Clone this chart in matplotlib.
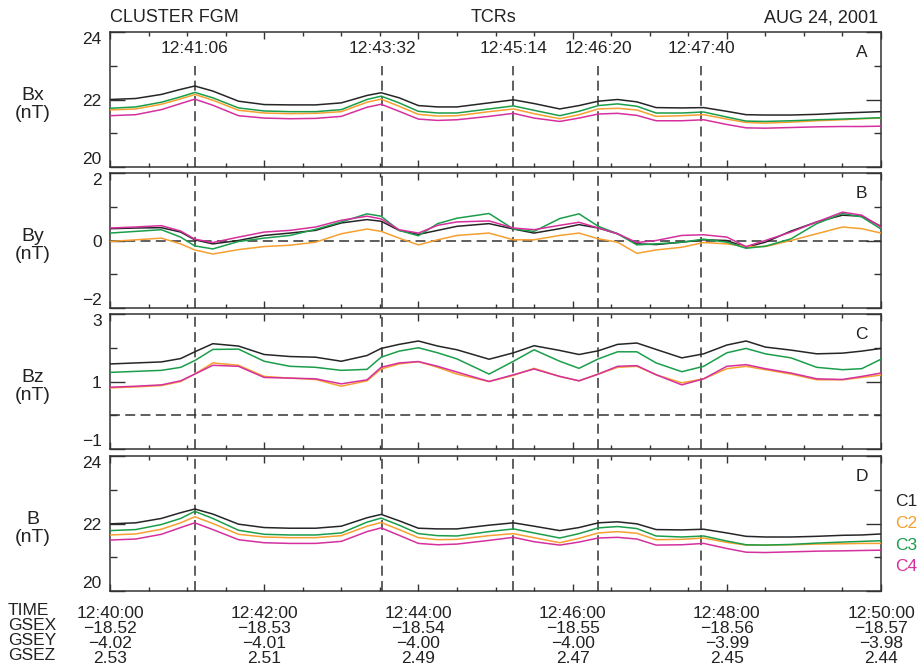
import matplotlib
matplotlib.use("Agg")
import matplotlib.pyplot as plt
from matplotlib.ticker import MultipleLocator, FixedLocator

plt.rcParams['font.family'] = ['Liberation Sans', 'DejaVu Sans']

# seconds after 12:40:00
t = [0, 20, 40, 55, 66, 80, 100, 120, 140, 160, 180, 200, 211, 225, 240, 255, 270, 295,
     314, 330, 350, 365, 380, 395, 410, 425, 445, 462, 480, 495, 510, 530, 550, 570, 585, 600]

bx_c1 = [22.0, 22.03, 22.15, 22.3, 22.4, 22.25, 21.95, 21.85, 21.84, 21.84, 21.9, 22.12, 22.2, 22.05,
         21.82, 21.78, 21.78, 21.9, 21.99, 21.88, 21.72, 21.82, 21.95, 22.0, 21.93, 21.76, 21.75, 21.76,
         21.65, 21.55, 21.54, 21.54, 21.56, 21.6, 21.62, 21.64]
bx_c2 = [21.69, 21.72, 21.86, 22.02, 22.15, 21.98, 21.68, 21.6, 21.58, 21.59, 21.64, 21.92, 22.01, 21.8,
         21.56, 21.51, 21.52, 21.64, 21.72, 21.58, 21.43, 21.55, 21.72, 21.74, 21.69, 21.5, 21.52, 21.55,
         21.42, 21.32, 21.3, 21.33, 21.37, 21.4, 21.43, 21.45]
bx_c3 = [21.74, 21.78, 21.92, 22.08, 22.21, 22.05, 21.75, 21.66, 21.64, 21.64, 21.7, 22.0, 22.1, 21.9,
         21.65, 21.6, 21.6, 21.72, 21.81, 21.68, 21.52, 21.65, 21.82, 21.87, 21.8, 21.6, 21.6, 21.63,
         21.48, 21.36, 21.35, 21.37, 21.4, 21.42, 21.44, 21.46]
bx_c4 = [21.52, 21.55, 21.7, 21.88, 22.01, 21.83, 21.52, 21.45, 21.43, 21.44, 21.5, 21.77, 21.86, 21.65,
         21.42, 21.38, 21.4, 21.5, 21.59, 21.45, 21.35, 21.45, 21.57, 21.59, 21.53, 21.37, 21.37, 21.4,
         21.26, 21.16, 21.15, 21.17, 21.19, 21.2, 21.2, 21.21]

by_c1 = [0.35, 0.37, 0.38, 0.25, 0.02, -0.1, 0.0, 0.15, 0.22, 0.3, 0.52, 0.62, 0.57, 0.3,
         0.18, 0.3, 0.42, 0.5, 0.34, 0.22, 0.35, 0.47, 0.37, 0.2, -0.1, -0.12, -0.05, 0.02,
         0.0, -0.2, -0.05, 0.28, 0.55, 0.75, 0.72, 0.42]
by_c2 = [-0.03, 0.02, 0.07, -0.1, -0.28, -0.4, -0.27, -0.18, -0.14, -0.05, 0.2, 0.34, 0.27, 0.07,
         -0.13, 0.02, 0.15, 0.22, 0.02, 0.02, 0.15, 0.22, 0.05, -0.05, -0.38, -0.28, -0.2, -0.06,
         -0.1, -0.18, -0.18, 0.0, 0.2, 0.4, 0.35, 0.22]
by_c3 = [0.22, 0.27, 0.32, 0.1, -0.16, -0.25, -0.03, 0.07, 0.15, 0.33, 0.55, 0.79, 0.72, 0.3,
         0.14, 0.5, 0.66, 0.8, 0.34, 0.27, 0.65, 0.79, 0.42, 0.2, -0.13, -0.1, -0.05, 0.04,
         -0.05, -0.23, -0.17, 0.05, 0.5, 0.8, 0.7, 0.34]
by_c4 = [0.37, 0.4, 0.44, 0.28, 0.04, -0.06, 0.1, 0.25, 0.3, 0.4, 0.6, 0.72, 0.64, 0.32,
         0.22, 0.45, 0.55, 0.58, 0.37, 0.32, 0.45, 0.54, 0.37, 0.2, -0.06, 0.0, 0.15, 0.17,
         0.1, -0.18, 0.0, 0.25, 0.55, 0.84, 0.75, 0.4]

bz_c1 = [1.52, 1.55, 1.58, 1.68, 1.88, 2.12, 2.05, 1.8, 1.74, 1.72, 1.6, 1.77, 1.98, 2.1,
         2.2, 2.05, 1.94, 1.66, 1.85, 2.06, 1.92, 1.8, 1.91, 2.1, 2.14, 1.95, 1.7, 1.82,
         2.08, 2.2, 2.02, 1.93, 1.82, 1.84, 1.9, 1.98]
bz_c2 = [0.81, 0.84, 0.88, 1.0, 1.22, 1.55, 1.48, 1.15, 1.1, 1.06, 0.86, 1.02, 1.37, 1.52,
         1.59, 1.42, 1.22, 1.0, 1.18, 1.39, 1.15, 1.02, 1.22, 1.42, 1.45, 1.2, 0.96, 1.08,
         1.38, 1.45, 1.35, 1.22, 1.05, 1.05, 1.12, 1.19]
bz_c3 = [1.27, 1.3, 1.33, 1.42, 1.62, 1.95, 1.96, 1.6, 1.45, 1.42, 1.33, 1.36, 1.72, 1.9,
         2.0, 1.85, 1.67, 1.22, 1.6, 1.94, 1.6, 1.39, 1.67, 1.88, 1.88, 1.55, 1.29, 1.45,
         1.85, 1.98, 1.82, 1.7, 1.42, 1.35, 1.38, 1.66]
bz_c4 = [0.83, 0.86, 0.9, 1.02, 1.22, 1.48, 1.45, 1.12, 1.1, 1.08, 0.93, 1.05, 1.42, 1.55,
         1.59, 1.45, 1.28, 1.0, 1.2, 1.37, 1.15, 1.02, 1.22, 1.45, 1.47, 1.2, 0.9, 1.08,
         1.45, 1.5, 1.38, 1.25, 1.08, 1.06, 1.15, 1.25]

b_c1 = [21.99, 22.02, 22.15, 22.32, 22.43, 22.28, 21.98, 21.88, 21.86, 21.86, 21.92, 22.17, 22.27, 22.08,
        21.86, 21.84, 21.84, 21.95, 22.02, 21.92, 21.79, 21.88, 22.02, 22.05, 21.99, 21.82, 21.81, 21.83,
        21.72, 21.62, 21.6, 21.6, 21.62, 21.65, 21.66, 21.69]
b_c2 = [21.66, 21.69, 21.83, 22.02, 22.2, 22.0, 21.68, 21.6, 21.58, 21.58, 21.64, 21.92, 22.03, 21.82,
        21.58, 21.52, 21.53, 21.64, 21.7, 21.58, 21.43, 21.56, 21.72, 21.76, 21.71, 21.52, 21.53, 21.57,
        21.44, 21.36, 21.36, 21.37, 21.39, 21.4, 21.41, 21.41]
b_c3 = [21.79, 21.82, 21.97, 22.15, 22.36, 22.15, 21.8, 21.68, 21.66, 21.66, 21.72, 22.04, 22.16, 21.95,
        21.7, 21.64, 21.63, 21.76, 21.84, 21.72, 21.57, 21.7, 21.87, 21.91, 21.85, 21.63, 21.6, 21.63,
        21.48, 21.37, 21.36, 21.38, 21.42, 21.45, 21.47, 21.49]
b_c4 = [21.51, 21.54, 21.68, 21.88, 22.02, 21.82, 21.52, 21.43, 21.41, 21.41, 21.47, 21.76, 21.87, 21.65,
        21.41, 21.37, 21.39, 21.5, 21.59, 21.46, 21.36, 21.45, 21.57, 21.59, 21.54, 21.36, 21.37, 21.41,
        21.26, 21.15, 21.14, 21.16, 21.18, 21.19, 21.2, 21.21]

event_t = [66, 212, 314, 380, 460]
event_labels = ["12:41:06", "12:43:32", "12:45:14", "12:46:20", "12:47:40"]

tick_t = [0, 120, 240, 360, 480, 600]
time_labels = ["12:40:00", "12:42:00", "12:44:00", "12:46:00", "12:48:00", "12:50:00"]
gsex = [-18.52, -18.53, -18.54, -18.55, -18.56, -18.57]
gsey = [-4.02, -4.01, -4.00, -4.00, -3.99, -3.98]
gsez = [2.53, 2.51, 2.49, 2.47, 2.45, 2.44]

sc_names = ["C1", "C2", "C3", "C4"]
sc_colors = ["#262626", "#f5a030", "#1b9e4b", "#d5309e"]

panels = [
    ("Bx\n(nT)", (20, 24), [20, 22, 24], [21, 23], "A", [bx_c1, bx_c2, bx_c3, bx_c4], False),
    ("By\n(nT)", (-2, 2), [-2, 0, 2], [-1, 1], "B", [by_c1, by_c2, by_c3, by_c4], True),
    ("Bz\n(nT)", (-1, 3), [-1, 1, 3], [0, 2], "C", [bz_c1, bz_c2, bz_c3, bz_c4], True),
    ("B\n(nT)", (20, 24), [20, 22, 24], [21, 23], "D", [b_c1, b_c2, b_c3, b_c4], False),
]

W, H = 917, 667
fs = 12.5
gray = "#333333"
dash = (0, (6.5, 3.5))


def fmt(v):
    return f"{v:.2f}".replace("-", "\u2212")


fig = plt.figure(figsize=(W / 100, H / 100), dpi=100)
tops = [32, 173, 314, 456]
ph = 135

for i, (ylab, ylim, yt, ym, letter, series, zero) in enumerate(panels):
    top = tops[i]
    ax = fig.add_axes([110 / W, 1 - (top + ph) / H, 771 / W, ph / H])
    for y, c in zip(series, sc_colors):
        ax.plot(t, y, color=c, lw=1.1, zorder=3)
    ax.set_xlim(0, 600)
    ax.set_ylim(*ylim)
    if zero:
        ax.axhline(0, color=gray, lw=1.1, ls=dash, zorder=2)
    if i == 0:
        ax.vlines(event_t, ylim[0], ylim[1] - 1.0, color=gray, lw=1.1, linestyles=[dash], zorder=2)
        for et, el in zip(event_t, event_labels):
            ax.text(et, 23.52, el, ha="center", va="center", fontsize=fs, color="#222")
    else:
        for et in event_t:
            ax.axvline(et, color=gray, lw=1.1, ls=dash, zorder=2)

    ax.yaxis.set_major_locator(FixedLocator(yt))
    ax.yaxis.set_minor_locator(FixedLocator(ym))
    ax.xaxis.set_major_locator(MultipleLocator(120))
    ax.xaxis.set_minor_locator(MultipleLocator(30))
    ax.tick_params(which="both", direction="in", top=True, right=True, colors=gray,
                   labelcolor="#222", labelsize=fs, width=1.0)
    ax.tick_params(axis="y", which="major", length=11, pad=6)
    ax.tick_params(axis="y", which="minor", length=5)
    ax.tick_params(axis="x", which="major", length=5)
    ax.tick_params(axis="x", which="minor", length=3)
    for s in ax.spines.values():
        s.set_color(gray)
        s.set_linewidth(1.1)

    # end labels sit inside the panel height so neighbours don't collide
    yticks = ax.yaxis.get_major_ticks()
    yticks[0].label1.set_va("bottom")
    yticks[-1].label1.set_va("top")

    ax.text(0.975, 0.85, letter, transform=ax.transAxes, ha="center", va="center",
            fontsize=fs, color="#222")
    fig.text(33 / W, 1 - (top + ph / 2 + 5) / H, ylab, ha="center", va="center",
             fontsize=14, color="#222", linespacing=1.05)

    if i < 3:
        ax.set_xticklabels([])
    else:
        labels = [f"{tl}\n{fmt(x)}\n{fmt(y)}\n{fmt(z)}"
                  for tl, x, y, z in zip(time_labels, gsex, gsey, gsez)]
        ax.set_xticks(tick_t)
        ax.set_xticklabels(labels, linespacing=1.0)
        ax.tick_params(axis="x", which="major", pad=11)

fig.text(8 / W, 1 - 603 / H, "TIME\nGSEX\nGSEY\nGSEZ", ha="left", va="top",
         fontsize=fs, color="#222", linespacing=1.0)

fig.text(110 / W, 1 - 18 / H, "CLUSTER FGM", ha="left", va="center", fontsize=13, color="#222")
fig.text(494 / W, 1 - 18 / H, "TCRs", ha="center", va="center", fontsize=13, color="#222")
fig.text(878 / W, 1 - 18 / H, "AUG 24, 2001", ha="right", va="center", fontsize=13, color="#222")

for k, (n, c) in enumerate(zip(sc_names, sc_colors)):
    fig.text(895 / W, 1 - (502 + 21.5 * k) / H, n, ha="left", va="center", fontsize=fs, color=c)

fig.savefig("out.png", dpi=100)
